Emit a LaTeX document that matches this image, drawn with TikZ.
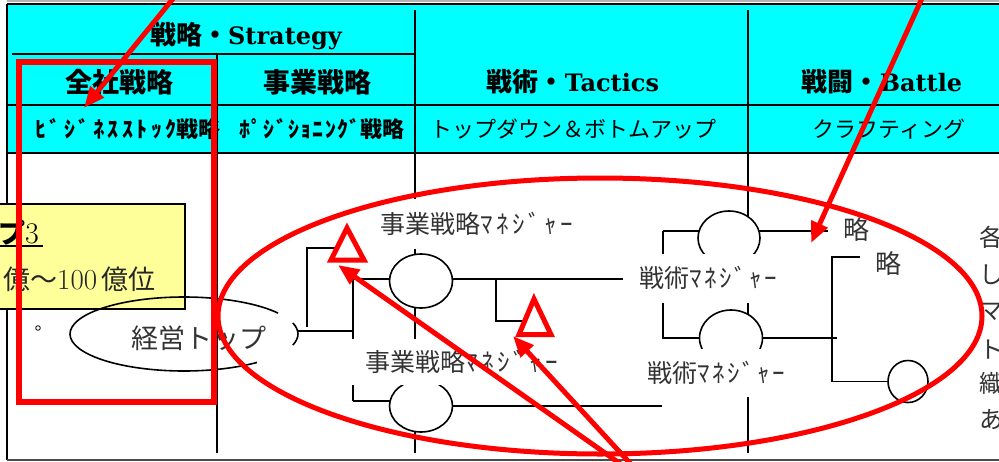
\documentclass[tikz,border=0pt]{standalone}
\usepackage{fontspec}
\newfontfamily\jp{Noto Sans CJK JP}
\newfontfamily\hdlat{DejaVu Serif}
\usetikzlibrary{arrows.meta,shapes.geometric}
\definecolor{hdrcyan}{HTML}{00FFFF}
\definecolor{notey}{HTML}{FFFF99}
\definecolor{redmark}{HTML}{FF0000}
\newcommand\lsp[2]{{\addfontfeatures{LetterSpace=#1}#2}}
\pgfdeclarelayer{bg}
\pgfdeclarelayer{lines}
\pgfdeclarelayer{over}
\pgfsetlayers{bg,lines,main,over}
\begin{document}
\begin{tikzpicture}[x=1pt,y=-1pt,
  frame/.style={line width=1.5pt,draw=black},
  conn/.style={line width=1.6pt,draw=black},
  hd/.style={inner sep=0pt,font=\fontsize{26}{28}\selectfont\jp\bfseries},
  hdsub/.style={inner sep=0pt,font=\fontsize{22}{26}\selectfont\jp},
  body/.style={inner sep=0pt,text=black!80,font=\fontsize{25}{28}\selectfont\jp},
  wbox/.style={body,fill=white},
  knot/.style={shape=ellipse,draw,line width=1.6pt,fill=white,inner sep=0pt},
  redline/.style={line width=5pt,draw=redmark},
  redarrow/.style={redline,-{Triangle[length=21pt,width=17pt]}},
]
\useasboundingbox (0,0) rectangle (999,461);

% ---------- background, header and table frame
\begin{pgfonlayer}{bg}
  \fill[white] (0,0) rectangle (999,461);
  \fill[hdrcyan] (8,5) rectangle (999,153);
  \draw[line width=1.5pt,gray!60] (7,1.2) -- (999,1.2);
  \draw[frame] (7,4) -- (999,4);
  \draw[frame] (7,4) -- (7,460);
  \draw[line width=1.3pt,black!70] (7,460) -- (999,460);
  \draw[frame] (12,54) -- (415,54);
  \draw[frame] (7,105) -- (999,105);
  \draw[line width=2.8pt] (7,153) -- (999,153);
  \draw[frame] (217,54) -- (217,453);
  \draw[frame] (415,10) -- (415,453);
  \draw[frame] (748,10) -- (748,453);
\end{pgfonlayer}

% ---------- header texts
\node[hd] (hStr) at (246,36) {戦略・{\hdlat\fontsize{24}{28}\selectfont Strategy}};
\node[hd,font=\fontsize{27}{28}\selectfont\jp\bfseries] (hAll) at (119,82) {全社戦略};
\node[hd,font=\fontsize{27}{28}\selectfont\jp\bfseries] (hBiz) at (317,82) {事業戦略};
\node[hd] (hTac) at (573,82) {戦術・{\hdlat\fontsize{24}{28}\selectfont Tactics}};
\node[hd] (hBat) at (882,82) {戦闘・{\hdlat\fontsize{24}{28}\selectfont Battle}};
\node[hdsub,font=\fontsize{22}{26}\selectfont\jp\bfseries] (hSub1) at (128,129) {\lsp{16}{ﾋﾞｼﾞﾈｽｽﾄｯｸ}戦略};
\node[hdsub,font=\fontsize{22}{26}\selectfont\jp\bfseries] (hSub2) at (322,129) {\lsp{6}{ﾎﾟｼﾞｼｮﾆﾝｸﾞ}戦略};
\node[hdsub] (hSub3) at (573,129) {トップダウン＆ボトムアップ};
\node[hdsub] (hSub4) at (889,129) {クラフティング};

% ---------- yellow note
\node[draw,fill=notey,line width=1.5pt,minimum width=194pt,minimum height=105pt,anchor=north west,inner sep=0pt] (note) at (-10,203) {};
\node[inner sep=0pt,anchor=east,font=\fontsize{30}{32}\selectfont] (noteA) at (39,233) {{\jp\bfseries\fontsize{27}{30}\selectfont プ}3};
\draw[line width=1.5pt] (-5,246) -- (43,246);
\node[inner sep=0pt,anchor=west,text=black!85,font=\fontsize{27}{30}\selectfont\jp] (noteB) at (3,279) {億～{\rmfamily\fontsize{29}{30}\selectfont 100}\hspace{4pt}億位};
\draw[line width=0.8pt] (38,328) circle[radius=2.3];

% ---------- top management ellipse (partly hidden)
\draw[conn,shift={(184,334)}] (-34.4:114 and 37) arc[start angle=-34.4,end angle=-309.8,x radius=114,y radius=37];
\draw[conn,shift={(184,334)}] (-17.3:114 and 37) arc[start angle=-17.3,end angle=17.3,x radius=114,y radius=37];
\node[body,font=\fontsize{27}{30}\selectfont\jp] (top) at (199,338) {経営トップ};

% ---------- manager nodes
\node[knot,minimum width=63pt,minimum height=54pt] (e1) at (421,281) {};
\node[knot,minimum width=63pt,minimum height=52pt] (e2) at (421,406) {};
\node[knot,minimum width=62pt,minimum height=54pt] (e3) at (729,238) {};
\node[knot,minimum width=63pt,minimum height=56pt] (e4) at (731,338) {};
\node[knot,minimum width=40pt,minimum height=42pt] (e5) at (908,381.5) {};

\node[wbox,minimum width=215pt,minimum height=50pt] (jm1) at (477,224) {事業戦略\lsp{14}{ﾏﾈｼﾞｬｰ}};
\node[wbox,minimum width=228pt,minimum height=46pt] (jm2) at (462,362) {事業戦略\lsp{14}{ﾏﾈｼﾞｬｰ}};
\node[wbox,minimum width=170pt,minimum height=49pt] (sm1) at (708,278) {戦術\lsp{10}{ﾏﾈｼﾞｬｰ}};
\node[wbox,minimum width=152pt,minimum height=48pt] (sm2) at (716,373) {戦術\lsp{10}{ﾏﾈｼﾞｬｰ}};
\node[wbox,minimum width=56pt,minimum height=36pt,font=\fontsize{26}{28}\selectfont\jp] (rk1) at (856,229) {略};
\node[wbox,minimum width=56pt,minimum height=36pt,font=\fontsize{26}{28}\selectfont\jp] (rk2) at (888,263) {略};

% ---------- right column (cut off)
\node[body,anchor=west,font=\fontsize{24}{26}\selectfont\jp] (c1) at (979,237) {各};
\node[body,anchor=west,font=\fontsize{24}{26}\selectfont\jp] (c2) at (979,275) {し};
\node[body,anchor=west,font=\fontsize{24}{26}\selectfont\jp] (c3) at (979,312) {マ};
\node[body,anchor=west,font=\fontsize{24}{26}\selectfont\jp] (c4) at (979,350) {ト};
\node[body,anchor=west,font=\fontsize{24}{26}\selectfont\jp] (c5) at (979,383) {織};
\node[body,anchor=west,font=\fontsize{24}{26}\selectfont\jp] (c6) at (979,420) {あ};

% ---------- connectors
\coordinate (a0) at (297,331); \coordinate (a1) at (353,331);
\coordinate (b0) at (307,327); \coordinate (b1) at (307,248); \coordinate (b2) at (336,248);
\coordinate (j1) at (353,279); \coordinate (j2) at (353,401);
\coordinate (br0) at (496,279); \coordinate (br1) at (496,321); \coordinate (br2) at (526,321);
\coordinate (s0) at (663,231); \coordinate (s1) at (663,338);
\coordinate (s2) at (837,338);
\coordinate (r0) at (832,257); \coordinate (r1) at (832,381.5);
\coordinate (l2) at (662,406);
\begin{pgfonlayer}{lines}
  \draw[conn] (a0) -- (a1);
  \draw[conn] (b0) -- (b1) -- (b2);
  \draw[conn] (j1) -- (j2);
  \draw[conn] (j1) -- (sm1.west |- j1);
  \draw[conn] (br0) -- (br1) -- (br2);
  \draw[conn] (j2) -- (e2.center |- j2);
  \draw[conn] (e2.center) -- (l2);
  \draw[conn] (s0) -- (rk1.west |- s0);
  \draw[conn] (s0) -- (s1) -- (e4.center);
  \draw[conn] (e4.center) -- (s2);
  \draw[conn] (rk2.west |- r0) -- (r0) -- (r1) -- (e5.center);
\end{pgfonlayer}

% ---------- red markings
\begin{pgfonlayer}{over}
  \draw[redline,line width=6pt] (19,62) rectangle (214,402);
  \draw[redline] (600,316) ellipse[x radius=382,y radius=138];
  \draw[redline,line join=miter] (347,228) -- (331,260) -- (364,260) -- cycle;
  \draw[redline,line join=miter] (534,299) -- (519,334.5) -- (551,334.5) -- cycle;
  \draw[redarrow] (178.5,-8) -- (84,108);
  \draw[redarrow] (923,-4) -- (811,243);
  \draw[redarrow] (632,472) -- (338,265);
  \draw[redarrow] (640,474) -- (513,336);
\end{pgfonlayer}
\end{tikzpicture}
\end{document}
